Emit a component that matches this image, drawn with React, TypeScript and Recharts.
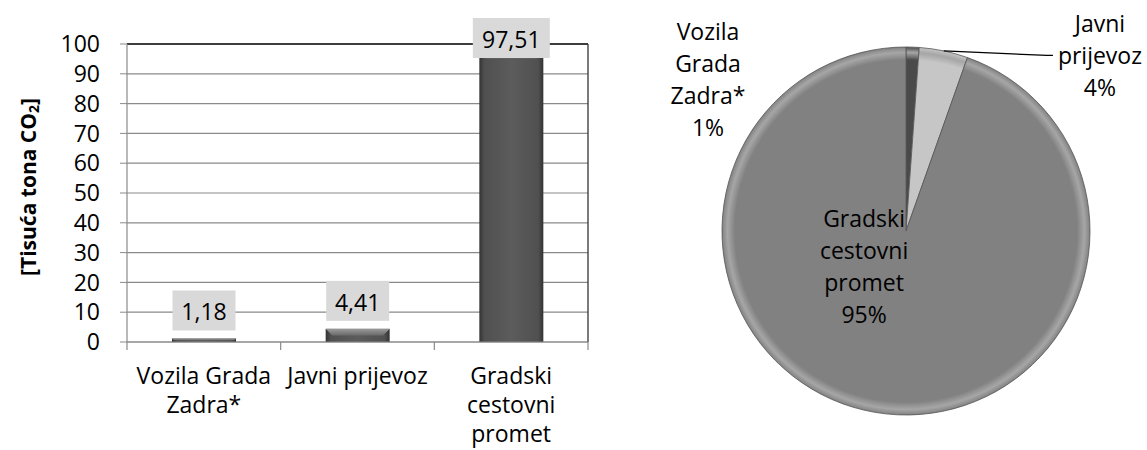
import React from 'react'
import { BarChart, Bar, XAxis, YAxis, CartesianGrid, ReferenceLine, LabelList, PieChart, Pie, Cell } from 'recharts'

const CATEGORIES = ['Vozila Grada Zadra*', 'Javni prijevoz', 'Gradski cestovni promet']
const EMISSIONS = [1.18, 4.41, 97.51]
const Y_TICKS = [0, 10, 20, 30, 40, 50, 60, 70, 80, 90, 100]
const AXIS_LABEL_LINES = [['Vozila Grada', 'Zadra*'], ['Javni prijevoz'], ['Gradski', 'cestovni', 'promet']]
const PIE_LABEL_LINES = [['Vozila', 'Grada', 'Zadra*'], ['Javni', 'prijevoz'], ['Gradski', 'cestovni', 'promet']]
const PIE_COLORS = ['#4a4a4a', '#c6c6c6', '#818181']
const Y_TITLE = 'Tisuća tona CO'

// label centres, in units of the pie radius
const PIE_LABEL_POS = [[-1.076, -0.826], [1.054, -0.954], [-0.228, 0.1875]]

const FONT = '"Open Sans", sans-serif'
const FS = 23
const LINE_H = 29
const GRID = '#8a8a8a'

const barData = CATEGORIES.map((name, i) => ({ name, value: EMISSIONS[i] }))
const pieData = CATEGORIES.map((name, i) => ({ name, value: EMISSIONS[i] }))

const fmt = (v: number) => v.toFixed(2).replace('.', ',')

const CategoryTick = ({ x, y, payload, index }: any) => {
	const i = payload?.index ?? index
	const half = payload?.offset || 153.7 / 2
	const lines = AXIS_LABEL_LINES[i] || []
	return (
		<g>
			<line x1={x - half} x2={x - half} y1={y} y2={y + 8} stroke={GRID} strokeWidth={1.2} />
			{i === CATEGORIES.length - 1 && <line x1={x + half} x2={x + half} y1={y} y2={y + 8} stroke={GRID} strokeWidth={1.2} />}
			{lines.map((t, k) => (
				<text key={k} x={x} y={y + 33 + k * LINE_H} textAnchor="middle" dominantBaseline="central"
					fontFamily={FONT} fontSize={FS} fill="#000">{t}</text>
			))}
		</g>
	)
}

const BevelBar = ({ x, y, width, height }: any) => {
	if (!height || height <= 0) return null
	const b = Math.min(7, height / 2)
	return (
		<g>
			<rect x={x} y={y} width={width} height={height} fill="url(#barGrad)" />
			<polygon points={`${x},${y} ${x + width},${y} ${x + width - b},${y + b} ${x + b},${y + b}`} fill="url(#bevelGrad)" />
		</g>
	)
}

const ValueLabel = ({ x, y, width, value }: any) => {
	const text = fmt(value)
	const w = 14 * text.length + 7
	const h = 40
	const top = Math.max(18, y - 8 - h)
	const cxm = x + width / 2
	return (
		<g>
			<rect x={cxm - w / 2} y={top} width={w} height={h} fill="#d9d9d9" />
			<text x={cxm} y={top + h / 2 + 1} textAnchor="middle" dominantBaseline="central"
				fontFamily={FONT} fontSize={FS} fill="#000">{text}</text>
		</g>
	)
}

const YTitle = () => (
	<text transform="translate(28,187) rotate(-90)" textAnchor="middle" dominantBaseline="central"
		fontFamily={FONT} fontSize={21} fontWeight="bold" fill="#000">
		[{Y_TITLE}<tspan fontSize={14} dy={5}>2</tspan><tspan dy={-5}>]</tspan>
	</text>
)

const RADIAN = Math.PI / 180

const renderPieLabel = ({ cx, cy, midAngle, outerRadius, percent, index }: any) => {
	const [px, py] = PIE_LABEL_POS[index]
	const lx = cx + px * outerRadius
	const ly = cy + py * outerRadius
	const lines = [...PIE_LABEL_LINES[index], `${Math.round(percent * 100)}%`]
	const top = ly - ((lines.length - 1) * 32) / 2
	let leader = null
	if (index === 1) {
		const sx = cx + outerRadius * Math.cos(-midAngle * RADIAN)
		const sy = cy + outerRadius * Math.sin(-midAngle * RADIAN)
		const ey = top + 32
		leader = <polyline points={`${sx},${sy} ${lx - 53},${ey} ${lx - 47},${ey}`} fill="none" stroke="#000" strokeWidth={1.3} />
	}
	return (
		<g>
			{leader}
			{lines.map((t, k) => (
				<text key={k} x={lx} y={top + k * 32} textAnchor="middle" dominantBaseline="central"
					fontFamily={FONT} fontSize={FS} fill="#000">{t}</text>
			))}
		</g>
	)
}

const PIE_CX = 266
const PIE_CY = 231
const PIE_R = 184

export default function App() {
	return (
		<div style={{ position: 'absolute', left: 0, top: 0, width: 1147, height: 450, background: '#fff' }}>
			<div style={{ position: 'absolute', left: 0, top: 0 }}>
				<BarChart width={600} height={450} data={barData} margin={{ top: 44, right: 12, bottom: 0, left: 0 }} barSize={64}>
					<defs>
						<linearGradient id="barGrad" x1="0" y1="0" x2="1" y2="0">
							<stop offset="0%" stopColor="#333" />
							<stop offset="8%" stopColor="#505050" />
							<stop offset="50%" stopColor="#5c5c5c" />
							<stop offset="92%" stopColor="#505050" />
							<stop offset="100%" stopColor="#333" />
						</linearGradient>
						<linearGradient id="bevelGrad" x1="0" y1="0" x2="0" y2="1">
							<stop offset="0%" stopColor="#9a9a9a" />
							<stop offset="100%" stopColor="#6a6a6a" />
						</linearGradient>
					</defs>
					<CartesianGrid vertical={false} stroke={GRID} strokeWidth={1.2} />
					<XAxis dataKey="name" height={108} tick={<CategoryTick />} tickLine={false} tickSize={0} tickMargin={0}
						axisLine={{ stroke: GRID, strokeWidth: 1.2 }} interval={0} />
					<YAxis width={127} domain={[0, 100]} ticks={Y_TICKS} interval={0} tickSize={7} tickMargin={20}
						axisLine={{ stroke: GRID, strokeWidth: 1.2 }} tickLine={{ stroke: GRID }}
						tick={{ fontFamily: FONT, fontSize: FS, fill: '#000' }} label={{ content: <YTitle /> }} />
					<ReferenceLine y={100} stroke="#111" strokeWidth={1.3} />
					<ReferenceLine x={CATEGORIES[2]} position="end" stroke="#333" strokeWidth={1.3} />
					<Bar dataKey="value" shape={<BevelBar />} isAnimationActive={false}>
						<LabelList dataKey="value" content={<ValueLabel />} />
					</Bar>
				</BarChart>
			</div>
			<div style={{ position: 'absolute', left: 640, top: 0 }}>
				<PieChart width={507} height={450} margin={{ top: 0, right: 0, bottom: 0, left: 0 }}>
					<defs>
						{PIE_COLORS.map((c, i) => (
							<radialGradient key={i} id={`pieGrad${i}`} gradientUnits="userSpaceOnUse" cx={PIE_CX} cy={PIE_CY} r={PIE_R}>
								<stop offset="0%" stopColor={c} />
								<stop offset="93%" stopColor={c} />
								<stop offset="97%" stopColor="#9c9c9c" stopOpacity={0.9} />
								<stop offset="100%" stopColor={c} />
							</radialGradient>
						))}
					</defs>
					<Pie data={pieData} dataKey="value" cx={PIE_CX} cy={PIE_CY} outerRadius={PIE_R}
						startAngle={90} endAngle={-270} labelLine={false} label={renderPieLabel}
						stroke="#555" strokeWidth={0.8} isAnimationActive={false}>
						{pieData.map((d, i) => (
							<Cell key={d.name} fill={`url(#pieGrad${i})`} />
						))}
					</Pie>
				</PieChart>
			</div>
		</div>
	)
}
